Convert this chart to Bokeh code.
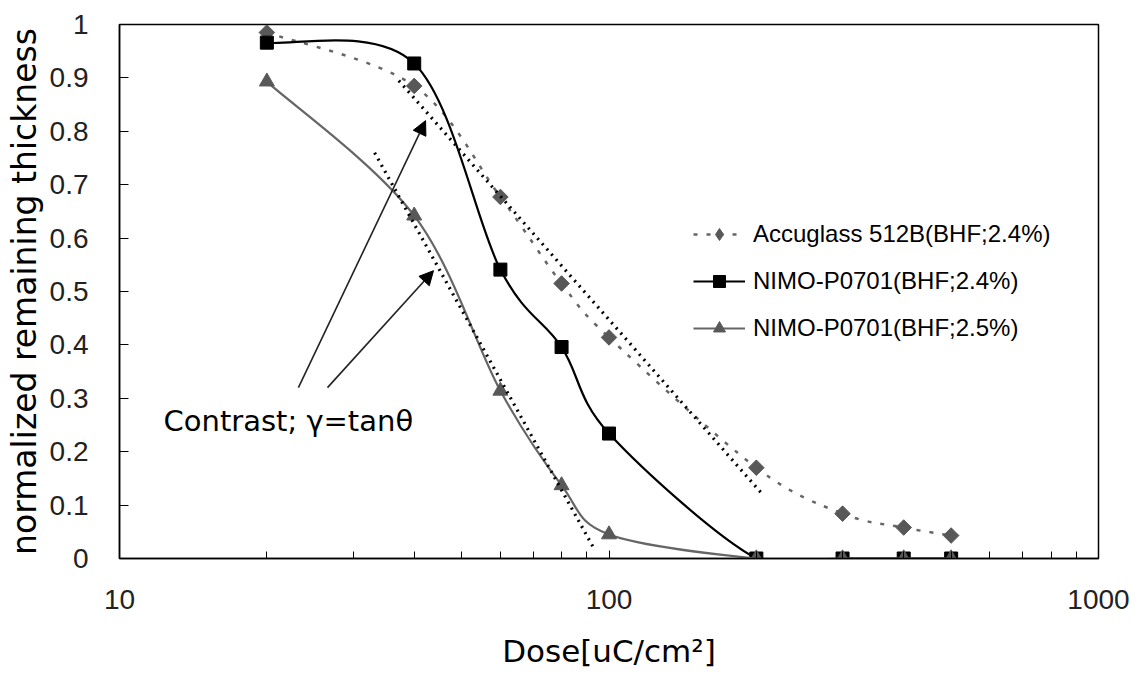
import numpy as np
from bokeh.plotting import figure
from bokeh.models import (FixedTicker, CustomJSTickFormatter, Legend, LegendItem,
                          Arrow, NormalHead, Label)
from bokeh.embed import file_html
from bokeh.resources import INLINE

# ---- data ----
dose = [20, 40, 60, 80, 100, 200, 300, 400, 500]
accuglass = [0.985, 0.885, 0.677, 0.515, 0.414, 0.170, 0.084, 0.058, 0.043]
nimo_24 = [0.966, 0.927, 0.541, 0.396, 0.234, 0.0, 0.0, 0.0, 0.0]
nimo_25 = [0.893, 0.642, 0.314, 0.137, 0.045, 0.0, 0.0, 0.0, 0.0]

series_names = ["Accuglass 512B(BHF;2.4%)", "NIMO-P0701(BHF;2.4%)", "NIMO-P0701(BHF;2.5%)"]

# tangent (contrast) lines: (x0, y0, x1, y1)
tangent_accuglass = [37.2, 0.895, 206.0, 0.12]
tangent_nimo25 = [33.2, 0.76, 93.0, 0.02]

# annotation arrows: (x_start, y_start, x_end, y_end)
arrow_1 = [23.2, 0.32, 42.2, 0.82]
arrow_2 = [26.6, 0.32, 43.8, 0.539]
contrast_text = "Contrast;  γ=tanθ"
contrast_pos = [12.3, 0.258]

x_major = [10, 100, 1000]
x_minor = [20, 30, 40, 50, 60, 70, 80, 90, 200, 300, 400, 500, 600, 700, 800, 900]
y_ticks = [0, 0.1, 0.2, 0.3, 0.4, 0.5, 0.6, 0.7, 0.8, 0.9, 1.0]


def smooth_segments(xs, ys):
    """Catmull-Rom style bezier segments in (log10 x, y) space (Excel-like smoothing)."""
    lx = np.log10(np.asarray(xs, dtype=float))
    y = np.asarray(ys, dtype=float)
    n = len(lx)
    out = {k: [] for k in ["x0", "y0", "x1", "y1", "cx0", "cy0", "cx1", "cy1"]}
    for i in range(n - 1):
        ip = max(i - 1, 0)
        inn = min(i + 2, n - 1)
        c0x = lx[i] + (lx[i + 1] - lx[ip]) / 6.0
        c0y = y[i] + (y[i + 1] - y[ip]) / 6.0
        c1x = lx[i + 1] - (lx[inn] - lx[i]) / 6.0
        c1y = y[i + 1] - (y[inn] - y[i]) / 6.0
        out["x0"].append(10 ** lx[i]); out["y0"].append(y[i])
        out["x1"].append(10 ** lx[i + 1]); out["y1"].append(y[i + 1])
        out["cx0"].append(10 ** c0x); out["cy0"].append(c0y)
        out["cx1"].append(10 ** c1x); out["cy1"].append(c1y)
    return out


p = figure(width=1138, height=683, x_axis_type="log", x_range=(10, 1000), y_range=(0, 1),
           output_backend="svg", toolbar_location=None,
           min_border_left=119, min_border_right=40, min_border_top=24, min_border_bottom=125)
p.xgrid.visible = False
p.ygrid.visible = False
p.outline_line_color = "black"
p.outline_line_width = 1.5
p.background_fill_color = "white"
p.border_fill_color = "white"

GRAY = "#585858"
LGRAY = "#666666"

# Accuglass
s = smooth_segments(dose, accuglass)
r_acc_line = p.bezier(line_color=LGRAY, line_width=2.5, line_dash="4 9", **s)
# diamond marker (used by the legend), covered by the rotated squares below
r_acc_leg = p.scatter(dose, accuglass, marker="diamond", size=14, fill_color=GRAY, line_color=GRAY)
r_acc_pts = p.scatter(dose, accuglass, marker="square", angle=np.pi / 4, size=11,
                      fill_color=GRAY, line_color=GRAY)

# NIMO 2.4%
s = smooth_segments(dose, nimo_24)
r_n24_line = p.bezier(line_color="black", line_width=2.2, **s)
r_n24_pts = p.scatter(dose, nimo_24, marker="square", size=13, fill_color="black", line_color="black")

# NIMO 2.5%
s = smooth_segments(dose, nimo_25)
r_n25_line = p.bezier(line_color=LGRAY, line_width=2.2, **s)
r_n25_pts = p.scatter(dose, nimo_25, marker="triangle", size=15, fill_color=GRAY, line_color=GRAY)

# tangent lines
for t in (tangent_accuglass, tangent_nimo25):
    p.line([t[0], t[2]], [t[1], t[3]], line_color="black", line_width=3.2, line_dash="2 5")

# arrows
for a in (arrow_1, arrow_2):
    p.add_layout(Arrow(x_start=a[0], y_start=a[1], x_end=a[2], y_end=a[3],
                       line_color="#222222", line_width=1.6,
                       end=NormalHead(size=14, fill_color="black", line_color="black")))

p.add_layout(Label(x=contrast_pos[0], y=contrast_pos[1], text=contrast_text,
                   text_font="DejaVu Sans", text_font_size="29px", text_baseline="middle",
                   text_color="black"))

# axes
xa = p.xaxis[0]
xa.ticker = FixedTicker(ticks=x_major, minor_ticks=x_minor)
xa.formatter = CustomJSTickFormatter(code="return tick.toFixed(0);")
xa.major_tick_in = 8
xa.major_tick_out = 0
xa.minor_tick_in = 7
xa.minor_tick_out = 0
xa.major_label_standoff = 31
xa.major_label_text_font = "Liberation Sans"
xa.major_label_text_font_size = "28px"
xa.major_label_text_color = "#222222"
xa.axis_label = "Dose[uC/cm²]"
xa.axis_label_text_font = "DejaVu Sans"
xa.axis_label_text_font_size = "31px"
xa.axis_label_text_font_style = "normal"
xa.axis_label_text_color = "black"
xa.axis_label_standoff = 21
xa.axis_line_color = "black"
xa.axis_line_width = 1.5

ya = p.yaxis[0]
ya.ticker = FixedTicker(ticks=y_ticks)
ya.formatter = CustomJSTickFormatter(code="return tick.toFixed(1).replace(/\\.0$/, '');")
ya.major_tick_in = 9
ya.major_tick_out = 0
ya.minor_tick_line_color = None
ya.major_label_standoff = 31
ya.major_label_text_font = "Liberation Sans"
ya.major_label_text_font_size = "28px"
ya.major_label_text_color = "#222222"
ya.axis_label = "normalized remaining thickness"
ya.axis_label_text_font = "DejaVu Sans"
ya.axis_label_text_font_size = "33px"
ya.axis_label_text_font_style = "normal"
ya.axis_label_text_color = "black"
ya.axis_label_standoff = 3
ya.axis_line_color = "black"
ya.axis_line_width = 1.5

legend = Legend(items=[
    LegendItem(label=series_names[0], renderers=[r_acc_line, r_acc_leg]),
    LegendItem(label=series_names[1], renderers=[r_n24_line, r_n24_pts]),
    LegendItem(label=series_names[2], renderers=[r_n25_line, r_n25_pts]),
], location=(574, 215), orientation="vertical")
legend.border_line_color = None
legend.background_fill_alpha = 0
legend.padding = 0
legend.margin = 0
legend.spacing = 17
legend.glyph_width = 52
legend.glyph_height = 30
legend.label_height = 30
legend.label_standoff = 8
legend.label_text_font = "Liberation Sans"
legend.label_text_font_size = "24px"
legend.label_text_color = "black"
p.add_layout(legend, "center")

open("out.html", "w").write(file_html(p, INLINE))
